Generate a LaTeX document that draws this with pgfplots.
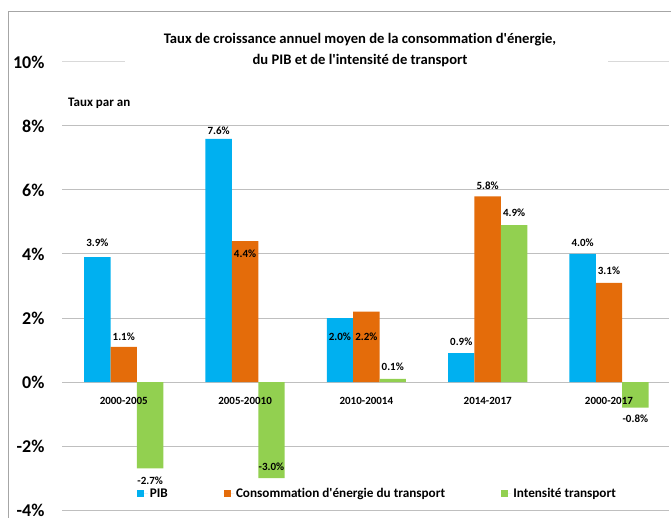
\documentclass[border=0pt]{standalone}
\usepackage{pgfplots}
\pgfplotsset{compat=1.18}
\usepackage{pgfplotstable}
\usepackage{fontspec}
\setmainfont{Carlito}[Ligatures={TeXOff,NoCommon}]

\definecolor{pibblue}{HTML}{00B0F0}
\definecolor{consorange}{HTML}{E46C0A}
\definecolor{intgreen}{HTML}{92D050}
\definecolor{gridgray}{HTML}{BFBFBF}
\definecolor{lightgrid}{HTML}{D9D9D9}
\definecolor{framegray}{HTML}{A6A6A6}

% layer order with the tick labels above the bars
\pgfplotsset{
  layers/labels over bars/.define layer set={
    axis background,axis grid,axis ticks,axis lines,pre main,main,
    axis tick labels,axis descriptions,axis foreground
  }{
    grid style={/pgfplots/on layer=axis grid},
    tick style={/pgfplots/on layer=axis ticks},
    axis line style={/pgfplots/on layer=axis lines},
    label style={/pgfplots/on layer=axis descriptions},
    legend style={/pgfplots/on layer=axis descriptions},
    title style={/pgfplots/on layer=axis descriptions},
    colorbar style={/pgfplots/on layer=axis descriptions},
    ticklabel style={/pgfplots/on layer=axis tick labels},
    axis background@ style={/pgfplots/on layer=axis background},
    3d box foreground style={/pgfplots/on layer=axis foreground},
  },
}

% x = period index, y = annual rate (%), dy = label offset from bar end (pt)
\pgfplotstableread{
x y dy
0 3.9 14
1 7.6 8
2 2.0 -19
3 0.9 11
4 4.0 11
}\pib
\pgfplotstableread{
x y dy
0 1.1 10
1 4.4 -13
2 2.2 -25
3 5.8 10.5
4 3.1 12
}\conso
\pgfplotstableread{
x y dy
0 -2.7 -12.5
1 -3.0 11
2 0.1 12
3 4.9 12
4 -0.8 -11
}\intens

\begin{document}
\begin{tikzpicture}
% outer chart frame
\draw[framegray, line width=1pt] (8pt,-20pt) -- (8pt,505pt) -- (700pt,505pt);
\begin{axis}[
  set layers=labels over bars,
  at={(62pt,7pt)}, anchor=south west,
  scale only axis, width=607pt, height=448pt,
  xmin=-0.509, xmax=4.495, ymin=-4, ymax=10,
  ytick={-4,-2,0,2,4,6,8},
  extra y ticks={10},
  extra y tick style={grid style={lightgrid, line width=1pt}},
  ymajorgrids, grid style={gridgray, line width=1pt},
  axis line style={draw=none}, tick style={draw=none},
  /pgf/number format/assume math mode=true,
  yticklabel={\pgfmathprintnumber{\tick}\%},
  yticklabel style={font=\bfseries\fontsize{18}{20}\selectfont, anchor=east, xshift=-14pt},
  xtick={0,1,2,3,4},
  xticklabels={2000-2005,2005-20010,2010-20014,2014-2017,2000-2017},
  xticklabel style={font=\bfseries\fontsize{11}{13}\selectfont, anchor=center, yshift=113pt},
  ybar, bar width=26.4pt,
  point meta=y,
  nodes near coords={\pgfmathprintnumber[fixed,fixed zerofill,precision=1]{\pgfplotspointmeta}\%},
  visualization depends on={\thisrow{dy} \as \dy},
  nodes near coords style={font=\bfseries\fontsize{11}{13}\selectfont, anchor=center, yshift=\dy pt, text=black},
  legend columns=3,
  legend image code/.code={\fill[#1] (0pt,-3.4pt) rectangle (6.8pt,3.4pt);
    \path (0pt,0pt) -- (10.3pt,0pt);},
  legend style={at={(0.124,0.036)}, anchor=west, draw=none, fill=none, inner sep=0pt,
    font=\bfseries\fontsize{13.2}{15}\selectfont,
    /tikz/every even column/.append style={column sep=54pt}},
]
\addplot[fill=pibblue, draw=none, bar shift=-26.4pt] table[x=x, y=y] {\pib};
\addlegendentry{PIB}
\addplot[fill=consorange, draw=none, bar shift=0pt] table[x=x, y=y] {\conso};
\addlegendentry{Consommation d'énergie du transport}
\addplot[fill=intgreen, draw=none, bar shift=26.4pt] table[x=x, y=y] {\intens};
\addlegendentry{Intensité transport}
\end{axis}
% title, set on a white band across the top grid line
\fill[white] (125pt,450pt) rectangle (608pt,460pt);
\node[align=center, font=\bfseries\fontsize{14.6}{21}\selectfont] at (360pt,466.5pt)
  {Taux de croissance annuel moyen de la consommation d'énergie,\\du PIB et de l'intensité de transport};
\node[anchor=west, font=\bfseries\fontsize{13}{15}\selectfont, inner sep=0pt] at (68pt,414pt) {Taux par an};
\pgfresetboundingbox
\path[use as bounding box] (0pt,0pt) rectangle (671pt,517pt);
\end{tikzpicture}
\end{document}
